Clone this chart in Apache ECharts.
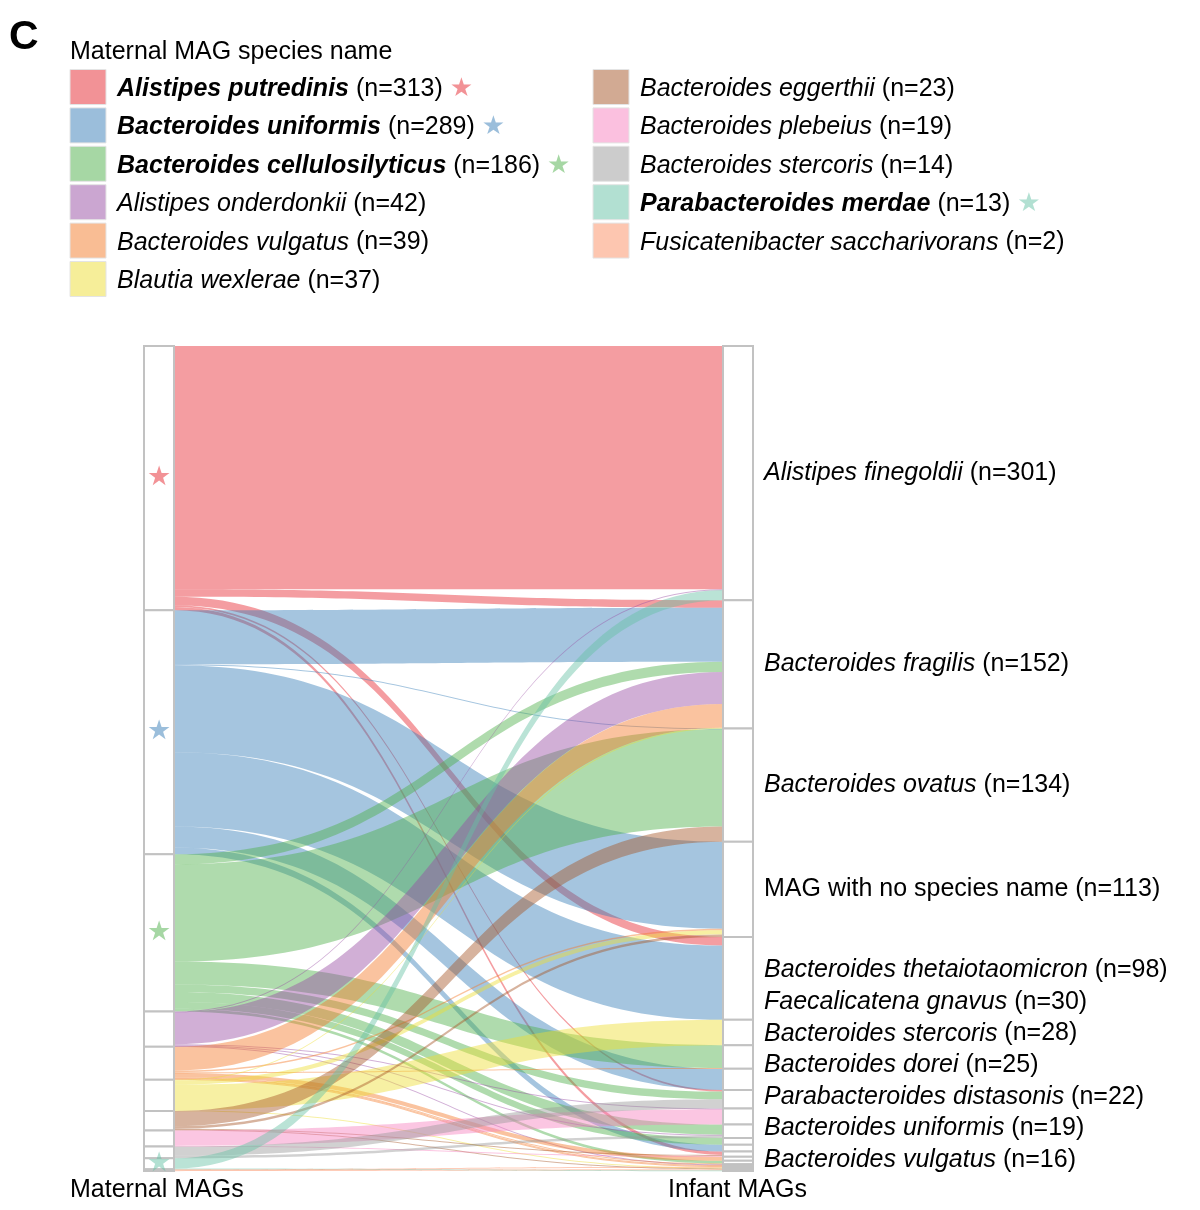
<!DOCTYPE html>
<html><head><meta charset="utf-8">
<script src="https://cdn.jsdelivr.net/npm/echarts/dist/echarts.min.js"></script>
<style>html,body{margin:0;padding:0;background:#fff}#chart{width:1200px;height:1210px}</style>
</head><body><div id="chart"></div>
<script>
// ---------------- data ----------------
const maternalNames = ['Alistipes putredinis','Bacteroides uniformis','Bacteroides cellulosilyticus','Alistipes onderdonkii','Bacteroides vulgatus','Blautia wexlerae','Bacteroides eggerthii','Bacteroides plebeius','Bacteroides stercoris','Parabacteroides merdae','Fusicatenibacter saccharivorans'];
const maternalCounts = [313,289,186,42,39,37,23,19,14,13,2];
const maternalStarred = [true,true,true,false,false,false,false,false,false,true,false];

const infantNames = ['Alistipes finegoldii','Bacteroides fragilis','Bacteroides ovatus','MAG with no species name','Bacteroides thetaiotaomicron','Faecalicatena gnavus','Bacteroides stercoris','Bacteroides dorei','Parabacteroides distasonis','Bacteroides uniformis','Bacteroides vulgatus','','','','','','','','','',''];
const infantItalic = [true,true,true,false,true,true,true,true,true,true,true,false,false,false,false,false,false,false,false,false,false];
const infantCounts = [301,152,134,113,98,30,28,25,22,19,16,8,8,6,5,4,2,2,2,1,1];

// [maternal index, infant index, number of MAGs]
const flows = [
  [0,0,288],[0,1,9],[0,4,10],[0,8,2],[0,13,4],
  [1,1,64],[1,2,1],[1,3,103],[1,4,88],[1,7,25],[1,12,8],
  [2,1,12],[2,2,115],[2,6,27],[2,8,9],[2,10,12],[2,11,8],[2,15,3],
  [3,0,1],[3,1,38],[3,9,1],[3,10,1],[3,16,1],
  [4,1,28],[4,3,2],[4,6,1],[4,14,5],[4,15,1],[4,16,1],[4,17,1],
  [5,1,1],[5,3,5],[5,5,30],[5,18,1],
  [6,2,18],[6,3,3],[6,13,1],[6,18,1],
  [7,9,18],[7,13,1],
  [8,8,11],[8,10,3],
  [9,0,12],[9,20,1],
  [10,17,1],[10,19,1]
];

const legendTitle = 'Maternal MAG species name';
const axisLeftTitle = 'Maternal MAGs';
const axisRightTitle = 'Infant MAGs';
const panelLabel = 'c';

// ---------------- styles ----------------
const FONT = '"Liberation Sans", Arial, Helvetica, sans-serif';
const STAR_FONT = '"DejaVu Sans", sans-serif';
const palette = ['#E6262E','#377EB8','#4DAF4A','#984EA3','#F47B2A','#EEDD33','#A65628','#F781BF','#999999','#66C2A5','#FC8D62'];
function tint(hex, a){ const n = parseInt(hex.slice(1),16); return 'rgba(' + ((n>>16)&255) + ',' + ((n>>8)&255) + ',' + (n&255) + ',' + a + ')'; }

const SK = {left:144, top:346, width:609, height:825, nodeWidth:30};
const total = maternalCounts.reduce((a,b)=>a+b,0);
const ky = SK.height / total;

// label de-overlap for the right column
const centers = []; let acc = 0;
infantCounts.forEach(v => { centers.push(SK.top + (acc + v/2)*ky); acc += v; });
const labIdx = infantNames.map((n,i)=>i).filter(i=>infantNames[i]);
const GAP = 31.6, MAXY = SK.top + SK.height - 11;
let groups = labIdx.map(i=>({ids:[i], mean:centers[i]}));
const startOf = g => g.mean - (g.ids.length-1)*GAP/2;
const endOf = g => g.mean + (g.ids.length-1)*GAP/2;
let changed = true;
while (changed) {
  changed = false;
  for (let k=0;k<groups.length-1;k++){
    const a = groups[k], b = groups[k+1];
    if (startOf(b) < endOf(a) + GAP) {
      const ids = a.ids.concat(b.ids);
      const mean = ids.reduce((s,i)=>s+centers[i],0)/ids.length;
      groups.splice(k,2,{ids, mean}); changed = true; break;
    }
  }
}
const lastG = groups[groups.length-1];
if (endOf(lastG) > MAXY) lastG.mean -= endOf(lastG) - MAXY;
const labelY = {};
groups.forEach(g => g.ids.forEach((i,k) => { labelY[i] = startOf(g) + k*GAP; }));

const richLabel = {
  i: {fontStyle:'italic', fontSize:25, fontFamily:FONT, color:'#000'},
  r: {fontSize:25, fontFamily:FONT, color:'#000'}
};

const nodes = [];
maternalNames.forEach((name,i) => {
  nodes.push({
    name: 'M' + i, value: maternalCounts[i],
    label: maternalStarred[i] ? {show:true, position:'inside', formatter:'★', color: tint(palette[i],0.5), fontSize:27, fontFamily:STAR_FONT} : {show:false}
  });
});
infantNames.forEach((name,i) => {
  const txt = name ? (infantItalic[i] ? '{i|' + name + '} {r|(n=' + infantCounts[i] + ')}' : '{r|' + name + ' (n=' + infantCounts[i] + ')}') : '';
  nodes.push({
    name: 'I' + i, value: infantCounts[i],
    label: name ? {show:true, position:'right', distance:10, offset:[0, labelY[i]-centers[i]], formatter: txt, rich: richLabel} : {show:false}
  });
});
const links = flows.map(([s,t,v]) => ({source:'M'+s, target:'I'+t, value:v, lineStyle:{color: palette[s], opacity:0.45}}));

// ---------------- graphic (legend + titles) ----------------
const graphics = [];
graphics.push({type:'text', left:9, top:17, style:{text:panelLabel.toUpperCase(), font:'bold 41px ' + FONT, fill:'#000'}});
graphics.push({type:'text', x:70, y:52, style:{text:legendTitle, fontSize:25, fontFamily:FONT, fill:'#000', verticalAlign:'middle'}});
const rowH = 38.4, row0 = 87;
maternalNames.forEach((name,i) => {
  const col = i < 6 ? 0 : 1;
  const r = i < 6 ? i : i - 6;
  const x = col === 0 ? 70 : 593;
  const cy = row0 + r*rowH;
  graphics.push({type:'rect', shape:{x:x, y:cy-17.5, width:36, height:35}, style:{fill: tint(palette[i],0.5), stroke:'#e4e4e4', lineWidth:1}});
  const nameTok = maternalStarred[i] ? '{b|' + name + '}' : '{i|' + name + '}';
  const txt = nameTok + ' {r|(n=' + maternalCounts[i] + ')}' + (maternalStarred[i] ? ' {s|★}' : '');
  graphics.push({type:'text', x:x+47, y:cy+2, style:{
    text: txt, fontSize:25, fontFamily:FONT, fill:'#000', verticalAlign:'middle',
    rich: {
      b:{fontStyle:'italic', fontWeight:'bold', fontSize:25, fontFamily:FONT, fill:'#000'},
      i:{fontStyle:'italic', fontSize:25, fontFamily:FONT, fill:'#000'},
      r:{fontSize:25, fontFamily:FONT, fill:'#000'},
      s:{fontSize:26, fontFamily:STAR_FONT, fill: tint(palette[i],0.5)}
    }}});
});
graphics.push({type:'text', x:70, y:1190, style:{text:axisLeftTitle, fontSize:25, fontFamily:FONT, fill:'#000', verticalAlign:'middle'}});
graphics.push({type:'text', x:668, y:1190, style:{text:axisRightTitle, fontSize:25, fontFamily:FONT, fill:'#000', verticalAlign:'middle'}});

const chart = echarts.init(document.getElementById('chart'), null, {renderer:'canvas'});
chart.setOption({
  backgroundColor:'#fff',
  animation:false,
  graphic: graphics,
  series:[{
    type:'sankey',
    left:SK.left, top:SK.top, width:SK.width, height:SK.height,
    nodeWidth:SK.nodeWidth, nodeGap:0, layoutIterations:0, nodeAlign:'justify',
    draggable:false, silent:true,
    emphasis:{disabled:true},
    itemStyle:{color:'#fff', borderColor:'#c2c2c2', borderWidth:2},
    lineStyle:{opacity:0.45, curveness:0.5},
    label:{color:'#000', fontSize:25, fontFamily:FONT},
    data:nodes,
    links:links
  }]
});
</script></body></html>
